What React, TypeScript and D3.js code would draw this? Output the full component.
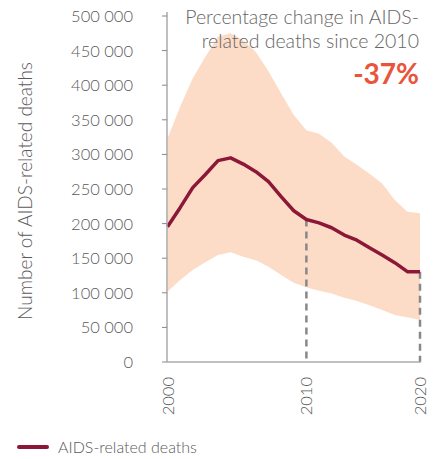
import React from "react";
import * as d3 from "d3";

const years = d3.range(2000, 2021);
const deaths = [195500, 223000, 252000, 271000, 291000, 295000, 286000, 275000, 260500, 239000, 218600, 206000, 201000, 194000, 183500, 176000, 165000, 154600, 143500, 130500, 130500];
const upper = [323000, 369000, 410000, 441000, 470000, 475000, 465000, 448000, 420000, 388000, 357000, 335000, 330000, 317000, 297000, 285000, 272000, 258000, 234000, 217000, 215000];
const lower = [101600, 118500, 133000, 144000, 154600, 158500, 152000, 147000, 137700, 125700, 114600, 108000, 103000, 99000, 93000, 88000, 82000, 75000, 68000, 64600, 60700];
const yTicks = [0, 50000, 100000, 150000, 200000, 250000, 300000, 350000, 400000, 450000, 500000];
const xTickLabels = ["2000", "2010", "2020"];
const xTickPositions = [2000, 2011, 2020];
const markerPositions = [2011, 2020];
const seriesName = "AIDS-related deaths";
const yTitle = "Number of AIDS-related deaths";
const noteLines = ["Percentage change in AIDS-", "related deaths since 2010"];
const noteValue = "-37%";

const W = 441;
const H = 459;
const FONT = "Lato, 'Open Sans', sans-serif";

export default function App() {
  const x = d3.scaleLinear().domain([2000, 2020]).range([167.5, 420]);
  const y = d3.scaleLinear().domain([0, 500000]).range([362, 16]);
  const fmt = (v: number) => d3.format(",")(v).replace(/,/g, " ");

  const area = d3
    .area<number>()
    .x((_, i) => x(years[i]))
    .y0((_, i) => y(lower[i]))
    .y1((_, i) => y(upper[i]));
  const line = d3
    .line<number>()
    .x((_, i) => x(years[i]))
    .y((d) => y(d));

  const valueAt = (yr: number) => deaths[years.indexOf(yr)];

  return (
    <svg width={W} height={H} style={{ position: "absolute", left: 0, top: 0, fontFamily: FONT }}>
      <rect width={W} height={H} fill="#fff" />
      <path d={area(years.map(() => 0)) || ""} fill="#fddcc7" />
      {markerPositions.map((yr) => (
        <line
          key={yr}
          x1={x(yr)}
          x2={x(yr)}
          y1={y(valueAt(yr))}
          y2={y(0)}
          stroke="#888"
          strokeWidth={2.5}
          strokeDasharray="7,5"
        />
      ))}
      <path d={line(deaths) || ""} fill="none" stroke="#8c1837" strokeWidth={3.5} strokeLinejoin="round" />
      <line x1={x(2000) - 0.5} x2={x(2000) - 0.5} y1={y(500000) - 4} y2={y(0)} stroke="#aaa" strokeWidth={1.5} />
      <line x1={x(2000) - 0.5} x2={x(2020) + 1} y1={y(0)} y2={y(0)} stroke="#aaa" strokeWidth={1.5} />
      {yTicks.map((t) => (
        <g key={t}>
          <line x1={162} x2={167} y1={y(t)} y2={y(t)} stroke="#888" strokeWidth={1} />
          <text x={133} y={y(t)} dy="0.36em" textAnchor="end" fontSize={16.5} fontWeight={300} fill="#5a5a5a">
            {fmt(t)}
          </text>
        </g>
      ))}
      {xTickPositions.map((yr, i) => (
        <text
          key={yr}
          transform={`translate(${x(yr) + 6},377) rotate(-90)`}
          textAnchor="end"
          fontSize={16.5}
          fontWeight={300}
          fill="#5a5a5a"
        >
          {xTickLabels[i]}
        </text>
      ))}
      <text transform="translate(32,191) rotate(-90)" textAnchor="middle" fontSize={19} fontWeight={300} fill="#5a5a5a">
        {yTitle}
      </text>
      {noteLines.map((l, i) => (
        <text key={i} x={419} y={24 + i * 23.5} textAnchor="end" fontSize={19.5} fontWeight={300} fill="#666">
          {l}
        </text>
      ))}
      <text x={419} y={84} textAnchor="end" fontSize={28} fontWeight="bold" fill="#e8553a">
        {noteValue}
      </text>
      <line x1={19} x2={47} y1={447} y2={447} stroke="#8c1837" strokeWidth={4} strokeLinecap="round" />
      <text x={58} y={453} fontSize={16} fontWeight={300} fill="#5a5a5a">
        {seriesName}
      </text>
    </svg>
  );
}
